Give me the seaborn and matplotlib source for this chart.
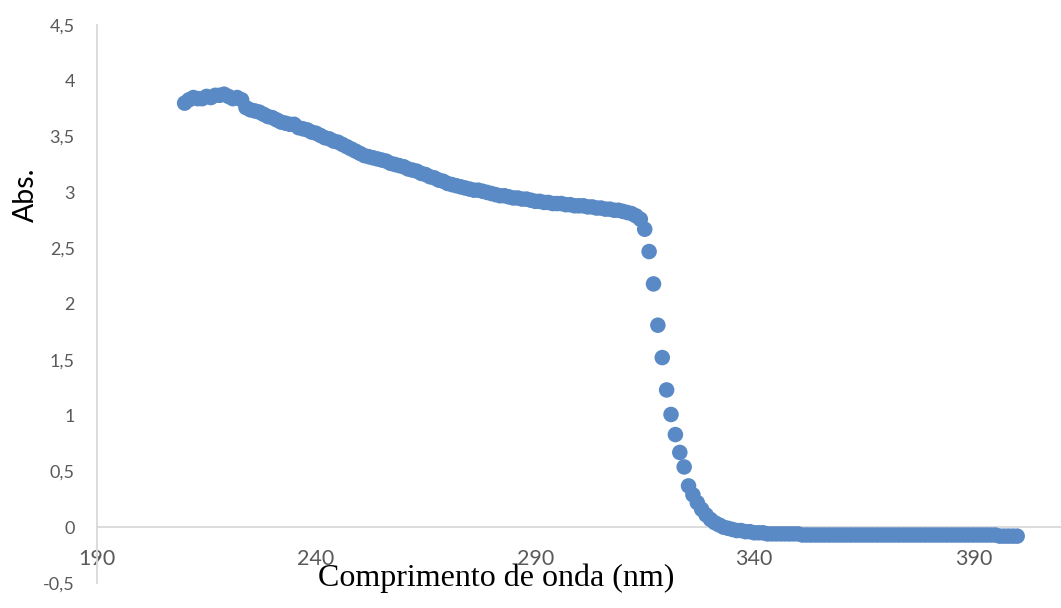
import numpy as np
import pandas as pd
import matplotlib
matplotlib.use("Agg")
import matplotlib.pyplot as plt
from matplotlib.ticker import FuncFormatter, MultipleLocator
import seaborn as sns

# Wavelength (nm), 1 nm step from 210 to 400
wavelength = list(range(210, 401))

# Absorbance
absorbance = [
    3.80, 3.83, 3.85, 3.84, 3.84, 3.86, 3.85, 3.87, 3.87, 3.88,   # 210-219
    3.86, 3.84, 3.85, 3.83, 3.76, 3.74, 3.73, 3.72, 3.70, 3.68,   # 220-229
    3.67, 3.65, 3.63, 3.62, 3.61, 3.61, 3.58, 3.57, 3.56, 3.54,   # 230-239
    3.53, 3.51, 3.49, 3.48, 3.46, 3.45, 3.43, 3.41, 3.39, 3.37,   # 240-249
    3.35, 3.33, 3.32, 3.31, 3.30, 3.29, 3.28, 3.26, 3.25, 3.24,   # 250-259
    3.23, 3.21, 3.20, 3.19, 3.17, 3.16, 3.14, 3.13, 3.11, 3.10,   # 260-269
    3.08, 3.07, 3.06, 3.05, 3.04, 3.03, 3.02, 3.02, 3.01, 3.00,   # 270-279
    2.99, 2.98, 2.97, 2.97, 2.96, 2.95, 2.95, 2.94, 2.94, 2.93,   # 280-289
    2.92, 2.92, 2.91, 2.91, 2.90, 2.90, 2.90, 2.89, 2.89, 2.88,   # 290-299
    2.88, 2.88, 2.87, 2.87, 2.86, 2.86, 2.85, 2.85, 2.84, 2.84,   # 300-309
    2.83, 2.82, 2.81, 2.79, 2.76, 2.67, 2.47, 2.18, 1.81, 1.52,   # 310-319
    1.23, 1.01, 0.83, 0.67, 0.54, 0.37, 0.29, 0.22, 0.16, 0.11,   # 320-329
    0.07, 0.04, 0.02, 0.00, -0.01, -0.02, -0.03, -0.03, -0.04, -0.04,  # 330-339
    -0.05, -0.05, -0.05, -0.06, -0.06, -0.06, -0.06, -0.06, -0.06, -0.06,  # 340-349
    -0.06, -0.07, -0.07, -0.07, -0.07, -0.07, -0.07, -0.07, -0.07, -0.07,  # 350-359
    -0.07, -0.07, -0.07, -0.07, -0.07, -0.07, -0.07, -0.07, -0.07, -0.07,  # 360-369
    -0.07, -0.07, -0.07, -0.07, -0.07, -0.07, -0.07, -0.07, -0.07, -0.07,  # 370-379
    -0.07, -0.07, -0.07, -0.07, -0.07, -0.07, -0.07, -0.07, -0.07, -0.07,  # 380-389
    -0.07, -0.07, -0.07, -0.07, -0.07, -0.07, -0.08, -0.08, -0.08, -0.08,  # 390-399
    -0.08,                                                                  # 400
]

x_ticks = [190, 240, 290, 340, 390]

df = pd.DataFrame({"wavelength": wavelength, "abs": absorbance})

sns.set_style("white")
plt.rcParams["font.family"] = ["Lato", "DejaVu Sans"]

fig = plt.figure(figsize=(10.61, 6.08), dpi=100)
ax = fig.add_axes([97 / 1061, 25 / 608, 1 - 97 / 1061, 558 / 608])

sns.scatterplot(data=df, x="wavelength", y="abs", ax=ax, s=125,
                color="#5A8AC6", edgecolor="none", linewidth=0, zorder=3)

ax.set_xlim(190, 410)
ax.set_ylim(-0.5, 4.5)
ax.set_xticks(x_ticks)
ax.yaxis.set_major_locator(MultipleLocator(0.5))
fmt = FuncFormatter(lambda v, p: f"{v:g}".replace(".", ","))
ax.yaxis.set_major_formatter(fmt)
ax.xaxis.set_major_formatter(FuncFormatter(lambda v, p: f"{v:g}"))

for s in ["top", "right"]:
    ax.spines[s].set_visible(False)
ax.spines["left"].set_color("#d9d9d9")
ax.spines["left"].set_linewidth(1.3)
ax.spines["bottom"].set_position(("data", 0))
ax.spines["bottom"].set_color("#d9d9d9")
ax.spines["bottom"].set_linewidth(1.3)

ax.tick_params(axis="both", length=0, labelcolor="#595959")
ax.tick_params(axis="y", pad=16, labelsize=13)
ax.tick_params(axis="x", pad=16, labelsize=15.5)
ax.set_xlabel("")
ax.set_ylabel("")
ax.grid(False)

fig.text(496.5 / 1061, 1 - 578 / 608, "Comprimento de onda (nm)",
         family="Liberation Serif", fontsize=23, color="black",
         ha="center", va="center")
fig.text(26 / 1061, 1 - 195 / 608, "Abs.", rotation=90, fontsize=20.5,
         color="black", ha="center", va="center")

fig.savefig("out.png", dpi=100)
